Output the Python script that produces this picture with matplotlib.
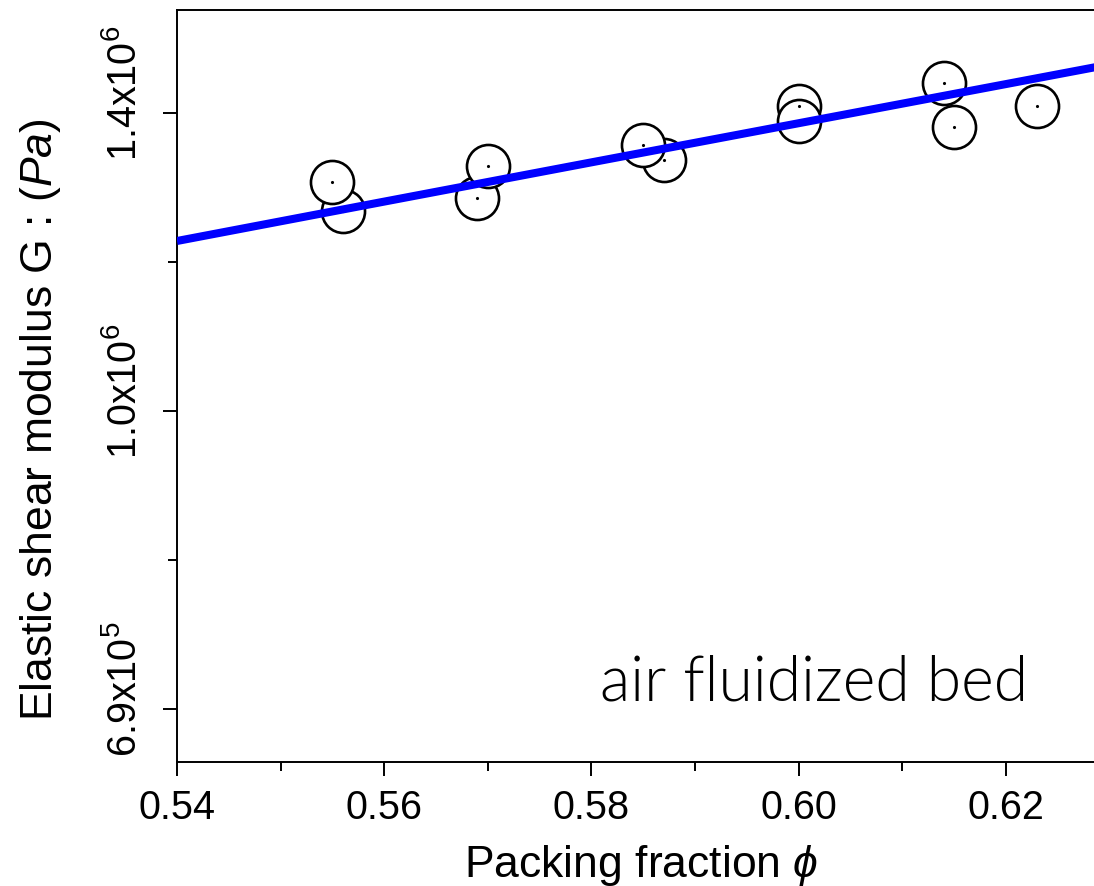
import numpy as np
import matplotlib
matplotlib.use("Agg")
import matplotlib.pyplot as plt
from matplotlib.ticker import FixedLocator, NullFormatter

plt.rcParams["font.family"] = ["Liberation Sans", "DejaVu Sans"]
plt.rcParams["mathtext.fontset"] = "custom"
plt.rcParams["mathtext.rm"] = "Liberation Sans"
plt.rcParams["mathtext.it"] = "Liberation Sans:italic"

# measured shear modulus vs packing fraction (draw order sets overlap)
phi_meas = [0.556, 0.555, 0.569, 0.570, 0.587, 0.585, 0.600, 0.600, 0.614, 0.615, 0.623]
G_meas = [1.2535e6, 1.2955e6, 1.2712e6, 1.3189e6, 1.3278e6, 1.3505e6,
          1.4114e6, 1.3867e6, 1.4475e6, 1.3783e6, 1.4114e6]

# fitted trend
phi_fit = [0.54, 0.56, 0.58, 0.60, 0.62, 0.6295]
G_fit = [1.2115e6, 1.2666e6, 1.3240e6, 1.3838e6, 1.4463e6, 1.4770e6]

x_ticks = [0.54, 0.56, 0.58, 0.60, 0.62]
x_tick_labels = ["0.54", "0.56", "0.58", "0.60", "0.62"]
x_minor = [0.55, 0.57, 0.59, 0.61]
y_ticks = [1e6 / 1.4, 1e6, 1.4e6]
y_tick_labels = [r"6.9x10$^{5}$", r"1.0x10$^{6}$", r"1.4x10$^{6}$"]
y_minor = [1e6 / np.sqrt(1.4), 1e6 * np.sqrt(1.4)]

W, H, DPI = 1094, 887, 100
fig = plt.figure(figsize=(W / DPI, H / DPI), dpi=DPI)
ax = fig.add_axes([177 / W, (H - 762.7) / H, 927.3 / W, 751.7 / H])

ax.set_yscale("log")
ax.set_xlim(0.54, 0.6295)
ax.set_ylim(6.7296e5, 1.5725e6)

ax.plot(phi_meas, G_meas, linestyle="none", marker="o", ms=31,
        mfc="white", mec="black", mew=1.9, zorder=2)
ax.plot(phi_meas, G_meas, linestyle="none", marker=".", ms=2.5,
        color="black", zorder=3)
ax.plot(phi_fit, G_fit, color="#0000ff", lw=5.8, zorder=4,
        solid_capstyle="butt")

ax.xaxis.set_major_locator(FixedLocator(x_ticks))
ax.set_xticklabels(x_tick_labels, fontsize=28.5)
ax.xaxis.set_minor_locator(FixedLocator(x_minor))
ax.xaxis.set_minor_formatter(NullFormatter())

ax.yaxis.set_major_locator(FixedLocator(y_ticks))
ax.yaxis.set_minor_locator(FixedLocator(y_minor))
ax.yaxis.set_minor_formatter(NullFormatter())
ax.set_yticklabels([])
for val, lab in zip(y_ticks, y_tick_labels):
    ax.annotate(lab, xy=(0, val), xycoords=("axes fraction", "data"),
                xytext=(-52, 21), textcoords="offset pixels",
                rotation=90, ha="center", va="center", fontsize=28.5)

ax.tick_params(which="major", direction="out", length=10, width=1.4, pad=9)
ax.tick_params(which="minor", direction="out", length=6.5, width=1.4)
for side in ["left", "bottom", "top"]:
    ax.spines[side].set_linewidth(1.4)
ax.spines["right"].set_visible(False)

ax.set_xlabel(r"Packing fraction $\mathit{\phi}$", fontsize=32, va="baseline")
ax.xaxis.set_label_coords(0.5004, -0.1521)
ax.set_ylabel(r"Elastic shear modulus G : $\mathit{(Pa)}$", fontsize=32,
              va="center")
ax.yaxis.set_label_coords(-0.1477, 0.4559)

ax.text(0.5808, 7.2228e5, "air fluidized bed", fontsize=45,
        family=["Lato", "DejaVu Sans"], fontweight=300,
        ha="left", va="baseline")

fig.savefig("out.png", dpi=DPI)
